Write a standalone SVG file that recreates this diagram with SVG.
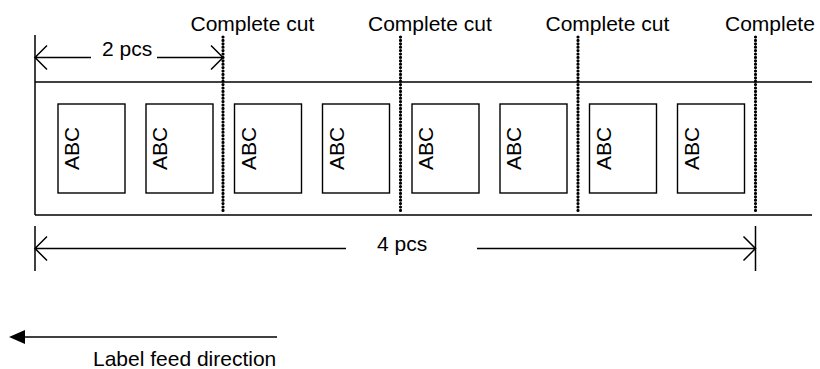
<svg xmlns="http://www.w3.org/2000/svg" width="820" height="369" viewBox="0 0 820 369">
<style>
.t{font-family:"Liberation Sans",Arial,sans-serif;font-size:21px;fill:#000}
.ln{stroke:#000;stroke-width:1.5;fill:none}
.box{stroke:#000;stroke-width:1.4;fill:#fff}
.cut{stroke:#000;stroke-width:3.2;stroke-linecap:round;stroke-dasharray:0 3.4;fill:none}
</style>
<defs>
<marker id="feed" viewBox="0 0 16 14" refX="0" refY="7" markerWidth="16" markerHeight="14" markerUnits="userSpaceOnUse" orient="auto">
<path d="M0,0 L16,7 L0,14 Z" fill="#000"/>
</marker>
</defs>
<rect width="820" height="369" fill="#fff"/>
<g id="tape">
<line class="ln" x1="35" y1="82" x2="812" y2="82"/>
<line class="ln" x1="35" y1="215" x2="812" y2="215"/>
<line class="ln" x1="35" y1="35" x2="35" y2="215"/>
</g>
<g id="label1"><rect class="box" x="58" y="104" width="67" height="89"/><text class="t" transform="translate(79,148.5) rotate(-90)" text-anchor="middle">ABC</text></g>
<g id="label2"><rect class="box" x="146" y="104" width="67" height="89"/><text class="t" transform="translate(167,148.5) rotate(-90)" text-anchor="middle">ABC</text></g>
<g id="label3"><rect class="box" x="234.5" y="104" width="67" height="89"/><text class="t" transform="translate(255.5,148.5) rotate(-90)" text-anchor="middle">ABC</text></g>
<g id="label4"><rect class="box" x="322.5" y="104" width="67" height="89"/><text class="t" transform="translate(343.5,148.5) rotate(-90)" text-anchor="middle">ABC</text></g>
<g id="label5"><rect class="box" x="412" y="104" width="67" height="89"/><text class="t" transform="translate(433,148.5) rotate(-90)" text-anchor="middle">ABC</text></g>
<g id="label6"><rect class="box" x="500" y="104" width="67" height="89"/><text class="t" transform="translate(521,148.5) rotate(-90)" text-anchor="middle">ABC</text></g>
<g id="label7"><rect class="box" x="589.5" y="104" width="67" height="89"/><text class="t" transform="translate(610.5,148.5) rotate(-90)" text-anchor="middle">ABC</text></g>
<g id="label8"><rect class="box" x="677.5" y="104" width="67" height="89"/><text class="t" transform="translate(698.5,148.5) rotate(-90)" text-anchor="middle">ABC</text></g>
<g id="cut1"><line class="cut" x1="223" y1="37" x2="223" y2="211"/><text class="t" x="190.5" y="31">Complete cut</text></g>
<g id="cut2"><line class="cut" x1="400.5" y1="37" x2="400.5" y2="211"/><text class="t" x="368" y="31">Complete cut</text></g>
<g id="cut3"><line class="cut" x1="578" y1="37" x2="578" y2="211"/><text class="t" x="545.5" y="31">Complete cut</text></g>
<g id="cut4"><line class="cut" x1="755.5" y1="37" x2="755.5" y2="211"/><text class="t" x="725" y="31">Complete cut</text></g>
<g id="dim2"><text class="t" x="102" y="56">2 pcs</text></g>
<g id="dim4"><line class="ln" x1="35" y1="226" x2="35" y2="271"/><line class="ln" x1="755.5" y1="226" x2="755.5" y2="271"/><text class="t" x="377" y="251">4 pcs</text></g>
<g id="feedlabel"><text class="t" x="93" y="366">Label feed direction</text></g>
<g id="connectors">
<path class="ln" d="M35,57.5 H91 M157,57.5 H223 M47,45.5 L35,57.5 L47,69.5 M211,45.5 L223,57.5 L211,69.5"/>
<path class="ln" d="M35,248.5 H346 M477,248.5 H755.5 M47,236.5 L35,248.5 L47,260.5 M743.5,236.5 L755.5,248.5 L743.5,260.5"/>
<line class="ln" x1="277" y1="337" x2="25" y2="337" marker-end="url(#feed)"/>
</g>
</svg>
